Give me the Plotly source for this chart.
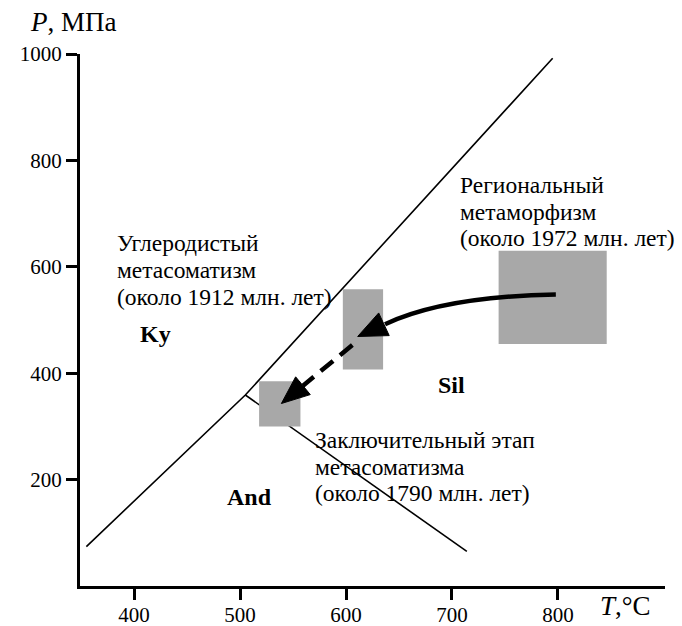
import numpy as np
import plotly.graph_objects as go

# ---------------- data ----------------
x_ticks = [400, 500, 600, 700, 800]
y_ticks = [200, 400, 600, 800, 1000]
x_range = [349, 901]
y_range = [0, 1000]

# Al2SiO5 phase boundaries (T, °C ; P, MPa)
ky_boundary_T = [355, 505, 795]
ky_boundary_P = [74, 359, 992]
and_sil_T = [505, 714]
and_sil_P = [359, 65]

# grey P-T boxes (T min, T max, P min, P max)
box_T0 = [518, 597, 744]
box_T1 = [557, 635, 846]
box_P0 = [300, 407, 455]
box_P1 = [385, 558, 630]

# arrows: solid curved (start, control, tip), dashed (start, tip)
solid_arrow_T = [798, 692, 611]
solid_arrow_P = [548, 544, 469]
dashed_arrow_T = [606, 539]
dashed_arrow_P = [453, 343]

# text labels
label_lines = [
    ["Углеродистый", "метасоматизм", "(около 1912 млн. лет)"],
    ["Региональный", "метаморфизм", "(около 1972 млн. лет)"],
    ["Заключительный этап", "метасоматизма", "(около 1790 млн. лет)"],
]
label_T = [382, 706, 569]
label_P = [[645, 594, 544], [754, 703, 654], [274, 224, 175]]

phase_names = ["Ky", "Sil", "And"]
phase_T = [420, 700, 509]
phase_P = [474, 378, 167]

# ---------------- layout constants ----------------
W, H = 682, 626
ML, MR, MT, MB = 80, 17, 54, 40
PW, PH = W - ML - MR, H - MT - MB
kx = PW / (x_range[1] - x_range[0])   # px per °C
ky = PH / (y_range[1] - y_range[0])   # px per MPa
FONT = "Liberation Serif, Times New Roman, serif"

fig = go.Figure()

fig.add_trace(go.Scatter(x=ky_boundary_T, y=ky_boundary_P, mode="lines",
                         line=dict(color="black", width=1.6), hoverinfo="skip"))
fig.add_trace(go.Scatter(x=and_sil_T, y=and_sil_P, mode="lines",
                         line=dict(color="black", width=1.6), hoverinfo="skip"))

shapes = []
for t0, t1, p0, p1 in zip(box_T0, box_T1, box_P0, box_P1):
    shapes.append(dict(type="rect", xref="x", yref="y", x0=t0, x1=t1, y0=p0, y1=p1,
                       fillcolor="#a8a8a8", line=dict(width=0), layer="above"))


def head(tipT, tipP, fromT, fromP, L=29, Wh=12.5):
    dx = (tipT - fromT) * kx
    dy = (tipP - fromP) * ky
    n = np.hypot(dx, dy)
    ux, uy = dx / n, dy / n
    bx = tipT * kx - L * ux
    by = tipP * ky - L * uy
    v1 = ((bx - Wh * uy) / kx, (by + Wh * ux) / ky)
    v2 = ((bx + Wh * uy) / kx, (by - Wh * ux) / ky)
    base = (bx / kx, by / ky)
    path = f"M {tipT},{tipP} L {v1[0]},{v1[1]} L {v2[0]},{v2[1]} Z"
    return path, base


# solid curved arrow
p_sol, b_sol = head(solid_arrow_T[2], solid_arrow_P[2], solid_arrow_T[1], solid_arrow_P[1])
shapes.append(dict(type="path", xref="x", yref="y",
                   path=f"M {solid_arrow_T[0]},{solid_arrow_P[0]} Q {solid_arrow_T[1]},{solid_arrow_P[1]} {b_sol[0] + 1},{b_sol[1]}",
                   line=dict(color="black", width=4.5), layer="above"))
shapes.append(dict(type="path", xref="x", yref="y", path=p_sol,
                   fillcolor="black", line=dict(color="black", width=1), layer="above"))

# dashed arrow
p_d, b_d = head(dashed_arrow_T[1], dashed_arrow_P[1], dashed_arrow_T[0], dashed_arrow_P[0], L=28, Wh=11.5)
shapes.append(dict(type="line", xref="x", yref="y",
                   x0=dashed_arrow_T[0], y0=dashed_arrow_P[0], x1=b_d[0], y1=b_d[1],
                   line=dict(color="black", width=4.5, dash="16px,9px"), layer="above"))
shapes.append(dict(type="path", xref="x", yref="y", path=p_d,
                   fillcolor="black", line=dict(color="black", width=1), layer="above"))

annotations = []
for lines, t, ps in zip(label_lines, label_T, label_P):
    for txt, p in zip(lines, ps):
        annotations.append(dict(x=t, y=p, xref="x", yref="y", text=txt, showarrow=False,
                                xanchor="left", yanchor="middle",
                                font=dict(family=FONT, size=23.5, color="black")))
for name, t, p in zip(phase_names, phase_T, phase_P):
    annotations.append(dict(x=t, y=p, xref="x", yref="y", text=f"<b>{name}</b>", showarrow=False,
                            xanchor="center", yanchor="middle",
                            font=dict(family=FONT, size=24, color="black")))

# axis titles
annotations.append(dict(xref="paper", yref="paper", x=(28 - ML) / PW,
                        y=1 + (MT - 22) / PH, text="<i>P</i>, МПа", showarrow=False,
                        xanchor="left", yanchor="middle",
                        font=dict(family=FONT, size=27, color="black")))
annotations.append(dict(xref="paper", yref="paper", x=(598 - ML) / PW,
                        y=-(606 - (H - MB)) / PH, text="<i>T</i>,°C", showarrow=False,
                        xanchor="left", yanchor="middle",
                        font=dict(family=FONT, size=27, color="black")))

axis_common = dict(showline=True, linecolor="black", linewidth=3, ticks="outside",
                   ticklen=11, tickwidth=3, tickcolor="black", showgrid=False, zeroline=False,
                   automargin=False,
                   tickfont=dict(family=FONT, size=21, color="black"))

fig.update_layout(
    width=W, height=H,
    margin=dict(l=ML, r=MR, t=MT, b=MB, pad=0, autoexpand=False),
    paper_bgcolor="white", plot_bgcolor="white",
    showlegend=False,
    xaxis=dict(range=x_range, tickvals=x_ticks, ticklabelstandoff=-3, **axis_common),
    yaxis=dict(range=y_range, tickvals=y_ticks, **axis_common),
    shapes=shapes,
    annotations=annotations,
)

# remove the default 8px page margin so the 682x626 figure fills the window exactly
fig.write_html("out.html", config={"displayModeBar": False},
               post_script="document.body.style.margin='0px';")
